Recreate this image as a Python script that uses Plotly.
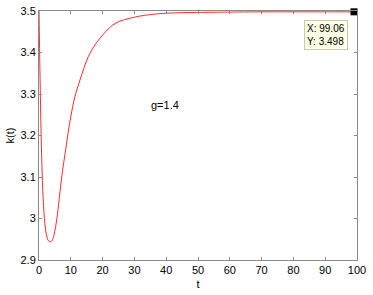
import plotly.graph_objects as go

t = [0, 0.4, 0.8, 1.2, 1.7, 2.3, 3.0, 3.7, 4.4, 5.1, 5.8, 6.6, 7.4, 8.2, 9.8, 11.3, 12.9,
     15.5, 18.7, 23.9, 30, 37, 45, 55, 70, 85, 99.06, 100]
k = [3.5, 3.31, 3.16, 3.065, 3.0, 2.962, 2.946, 2.944, 2.952, 2.975, 3.01, 3.065, 3.115,
     3.157, 3.237, 3.294, 3.334, 3.390, 3.430, 3.470, 3.485, 3.493, 3.496, 3.497, 3.498,
     3.498, 3.498, 3.498]

tip_x = [99.06]
tip_y = [3.498]

x_ticks = [0, 10, 20, 30, 40, 50, 60, 70, 80, 90, 100]
y_ticks = [2.9, 3.0, 3.1, 3.2, 3.3, 3.4, 3.5]
y_labels = ["2.9", "3", "3.1", "3.2", "3.3", "3.4", "3.5"]

FONT = "Liberation Sans, Arial"

fig = go.Figure()
fig.add_trace(go.Scatter(x=t, y=k, mode="lines",
                         line=dict(color="#ff2a2a", width=1, shape="spline", smoothing=0.9),
                         hoverinfo="skip", showlegend=False))
fig.add_trace(go.Scatter(x=tip_x, y=tip_y, mode="markers",
                         marker=dict(symbol="square", size=7, color="black"),
                         showlegend=False, cliponaxis=False, hoverinfo="skip"))

axis_common = dict(showgrid=False, zeroline=False, showline=True, linecolor="#8a8a8a",
                   linewidth=1, mirror="ticks", ticks="inside", ticklen=3, automargin=False,
                   tickcolor="#8a8a8a", tickfont=dict(family=FONT, size=11, color="black"))

fig.update_xaxes(range=[0, 100], tickvals=x_ticks, **axis_common,
                 title=dict(text="t", font=dict(family=FONT, size=11, color="black"), standoff=5))
fig.update_yaxes(range=[2.9, 3.5], tickvals=y_ticks, ticktext=y_labels, **axis_common,
                 title=dict(text="k(t)", font=dict(family=FONT, size=11, color="black"), standoff=3))

fig.add_annotation(x=39.7, y=3.273, text="g=1.4", showarrow=False,
                   font=dict(family=FONT, size=11, color="black"))
fig.add_annotation(x=tip_x[0], y=tip_y[0], text="X: 99.06<br>Y: 3.498", showarrow=False,
                   xanchor="right", yanchor="top", xshift=-6, yshift=-8, align="left",
                   bgcolor="#ffffe6", bordercolor="#c8c8b4", borderwidth=1, borderpad=2,
                   font=dict(family=FONT, size=10, color="black"))

fig.update_layout(width=373, height=295, margin=dict(l=39, r=16, t=11, b=35, autoexpand=False),
                  plot_bgcolor="white", paper_bgcolor="white", hovermode=False)

fig.write_html("out.html", config={"displayModeBar": False},
               post_script="document.body.style.margin='0';")
